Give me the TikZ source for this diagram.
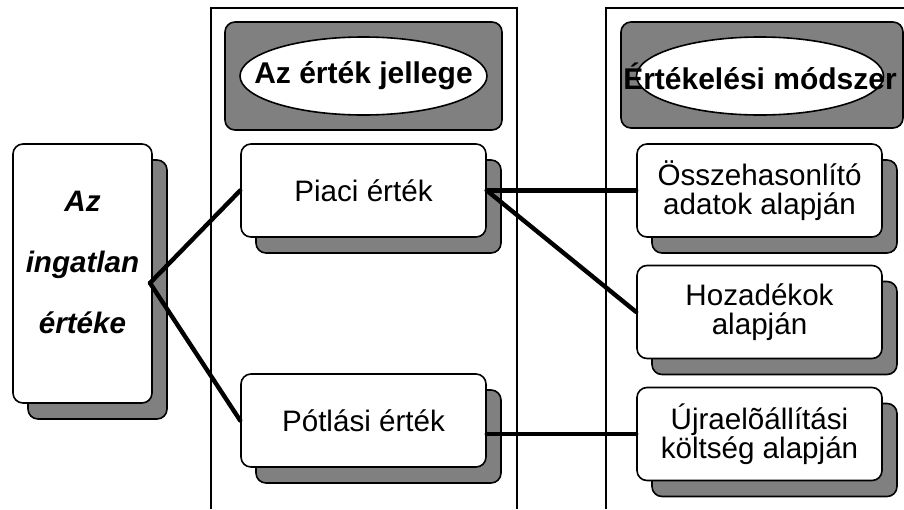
\documentclass[tikz,border=0pt]{standalone}
\usepackage{fontspec}
\setmainfont{Liberation Sans}
\usetikzlibrary{shapes.geometric,shadows}

\tikzset{
  valuebox/.style={draw, line width=0.8pt, fill=white, rounded corners=5pt,
    minimum width=122.5pt, minimum height=46.5pt, inner sep=0pt, align=center,
    font=\fontsize{14.8}{14.5}\selectfont,
    drop shadow={shadow xshift=7.5pt, shadow yshift=-8pt, opacity=1,
      fill=gray, draw=black, line width=0.8pt}},
  headbox/.style={draw, line width=0.8pt, fill=gray, rounded corners=5pt,
    inner sep=0pt},
  headoval/.style={ellipse, draw, line width=0.8pt, fill=white, inner sep=0pt,
    minimum width=123.5pt, minimum height=39pt},
  headtext/.style={font=\fontsize{15}{15}\selectfont\bfseries, inner sep=0pt},
  link/.style={line width=2.2pt, line cap=round}
}

\begin{document}
\begin{tikzpicture}[x=0.5pt, y=-0.5pt]
  \useasboundingbox (0,0) rectangle (904,509);

  % 1. oszlopok
  \draw[line width=0.6pt] (211,509) |- (517,8) -- (517,509);
  \draw[line width=0.6pt] (606,509) |- (904,8);

  % 2. fejlecek
  \node[headbox, minimum width=138.5pt, minimum height=54pt] (headL) at (363.5,76) {};
  \node[headoval] (ovalL) at (363.5,76) {};
  \node[headtext] (textL) at (ovalL) {Az érték jellege};

  \node[headbox, minimum width=141pt, minimum height=53pt] (headR) at (762,75) {};
  \node[headoval] (ovalR) at (760,76) {};
  \node[headtext] (textR) at (ovalR) {Értékelési módszer};

  % 3. dobozok
  \node[valuebox, minimum width=69.5pt, minimum height=129.5pt] (ingatlan) at (82.5,273.5) {};
  \node[align=center, inner sep=0pt,
    font=\fontsize{14.8}{30.5}\selectfont\bfseries\itshape] (ingtext) at (82.5,262)
    {Az\\ingatlan\\értéke};

  \node[valuebox] (piaci) at (363.5,190.5) {Piaci érték};
  \node[valuebox] (potlas) at (363.5,420.5) {Pótlási érték};

  \node[valuebox] (osszeh) at (759.5,190.5) {Összehasonlító\\adatok alapján};
  \node[valuebox] (hozad) at (759.5,312) {Hozadékok\\alapján};
  \node[valuebox] (ujra) at (759.5,434) {Újraelõállítási\\költség alapján};

  % 4. kapcsolatok
  \coordinate (hub) at (150,283);
  \draw[link] (hub) -- (piaci.west);
  \draw[link] (hub) -- (potlas.west);
  \draw[link] (piaci.east) -- (osszeh.west);
  \draw[link] (piaci.east) -- (hozad.west);
  \draw[link] (ujra.west) -- (ujra.west -| potlas.east);
\end{tikzpicture}
\end{document}
